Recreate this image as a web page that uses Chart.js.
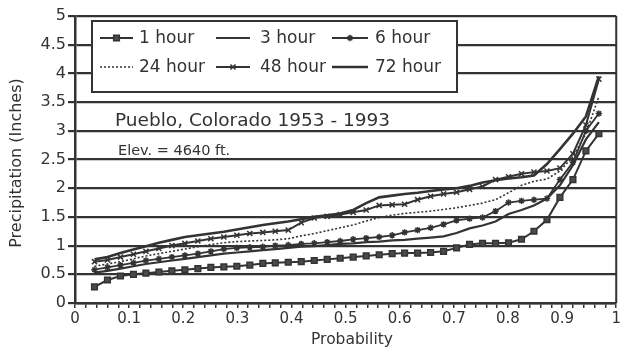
<!DOCTYPE html>
<html>
<head>
<meta charset="utf-8">
<script src="https://cdn.jsdelivr.net/npm/chart.js@4/dist/chart.umd.min.js"></script>
<style>
  html, body { margin: 0; padding: 0; background: #fff; }
  #wrap { width: 623px; height: 348px; }
</style>
</head>
<body>
<div id="wrap"><canvas id="c" width="623" height="348"></canvas></div>
<script>
// ---- data ----
const probability = [0.036,0.060,0.084,0.108,0.131,0.155,0.179,0.203,0.227,0.251,
                     0.275,0.299,0.323,0.347,0.370,0.394,0.418,0.442,0.466,0.490,
                     0.514,0.538,0.562,0.586,0.609,0.633,0.657,0.681,0.705,0.729,
                     0.753,0.777,0.801,0.825,0.848,0.872,0.896,0.920,0.944,0.968];
const hour1  = [0.28,0.40,0.47,0.50,0.52,0.54,0.56,0.58,0.60,0.62,
                0.63,0.64,0.66,0.69,0.70,0.71,0.72,0.74,0.76,0.78,
                0.80,0.82,0.84,0.86,0.87,0.87,0.88,0.90,0.96,1.02,
                1.04,1.04,1.05,1.11,1.25,1.45,1.84,2.15,2.65,2.95];
const hour3  = [0.53,0.56,0.60,0.64,0.68,0.71,0.74,0.77,0.80,0.83,
                0.86,0.88,0.90,0.92,0.94,0.96,0.98,0.99,1.01,1.03,
                1.04,1.06,1.07,1.09,1.10,1.12,1.14,1.16,1.22,1.30,
                1.35,1.42,1.55,1.62,1.70,1.82,2.05,2.40,2.85,3.15];
const hour6  = [0.58,0.62,0.66,0.70,0.74,0.77,0.80,0.83,0.86,0.90,
                0.94,0.96,0.97,0.98,1.00,1.01,1.03,1.04,1.06,1.08,
                1.11,1.13,1.15,1.18,1.23,1.27,1.31,1.37,1.44,1.47,
                1.49,1.60,1.75,1.78,1.80,1.82,2.15,2.45,3.00,3.30];
const hour24 = [0.64,0.68,0.72,0.77,0.82,0.86,0.90,0.94,0.98,1.02,
                1.05,1.07,1.08,1.09,1.10,1.12,1.17,1.21,1.26,1.31,
                1.36,1.43,1.49,1.53,1.56,1.58,1.60,1.63,1.66,1.70,
                1.74,1.80,1.92,2.05,2.12,2.16,2.30,2.55,2.95,3.60];
const hour48 = [0.72,0.75,0.80,0.85,0.90,0.95,1.00,1.04,1.08,1.12,
                1.15,1.18,1.21,1.23,1.25,1.27,1.40,1.48,1.51,1.54,
                1.58,1.62,1.70,1.71,1.72,1.80,1.86,1.90,1.93,1.98,
                2.03,2.15,2.20,2.25,2.28,2.30,2.35,2.60,3.10,3.90];
const hour72 = [0.76,0.80,0.87,0.93,0.99,1.05,1.10,1.15,1.18,1.21,
                1.24,1.28,1.32,1.36,1.39,1.42,1.46,1.50,1.53,1.56,
                1.62,1.74,1.84,1.87,1.90,1.92,1.95,1.98,2.00,2.04,
                2.10,2.14,2.17,2.19,2.22,2.42,2.68,2.95,3.25,3.95];
const seriesLabels = ['1 hour','3 hour','6 hour','24 hour','48 hour','72 hour'];
const xTickLabels = ['0','0.1','0.2','0.3','0.4','0.5','0.6','0.7','0.8','0.9','1'];
const yTickLabels = ['0','0.5','1','1.5','2','2.5','3','3.5','4','4.5','5'];
const titleText = 'Pueblo, Colorado 1953 - 1993';
const elevText = 'Elev. = 4640 ft.';
const xTitle = 'Probability';
const yTitle = 'Precipitation (Inches)';

// ---- styling ----
const INK = '#333333';
const FONT = '"DejaVu Sans", "Liberation Sans", Arial, sans-serif';

function pts(arr) { return probability.map((p, i) => ({ x: p, y: arr[i] })); }

const styles = [
  { borderWidth: 2.0, pointStyle: 'rect', pointRadius: 4, dash: [] },
  { borderWidth: 2.2, pointStyle: false, pointRadius: 0, dash: [] },
  { borderWidth: 1.8, pointStyle: 'star', pointRadius: 3.2, dash: [] },
  { borderWidth: 1.6, pointStyle: false, pointRadius: 0, dash: [2, 2] },
  { borderWidth: 2.0, pointStyle: 'crossRot', pointRadius: 3.6, dash: [] },
  { borderWidth: 2.6, pointStyle: false, pointRadius: 0, dash: [] }
];
const seriesData = [hour1, hour3, hour6, hour24, hour48, hour72];

const datasets = seriesData.map((arr, k) => ({
  label: seriesLabels[k],
  data: pts(arr),
  borderColor: INK,
  backgroundColor: INK,
  borderWidth: styles[k].borderWidth,
  borderDash: styles[k].dash,
  pointStyle: styles[k].pointStyle || 'circle',
  pointRadius: styles[k].pointRadius,
  pointBorderWidth: 1.5,
  pointBorderColor: INK,
  pointBackgroundColor: '#4a4a4a',
  tension: 0,
  fill: false
}));

function drawMarker(ctx, style, r, x, y) {
  if (!style) return;
  Chart.helpers.drawPoint(ctx, { pointStyle: style, radius: r, rotation: 0, borderWidth: 1.5 }, x, y);
}

const decor = {
  id: 'decor',
  afterDraw(chart) {
    const ctx = chart.ctx;
    const a = chart.chartArea;
    ctx.save();
    // right border
    ctx.strokeStyle = INK; ctx.lineWidth = 2;
    ctx.beginPath(); ctx.moveTo(a.right, a.top); ctx.lineTo(a.right, a.bottom); ctx.stroke();

    // legend box
    const bx = 92, by = 21, bw = 365, bh = 71;
    ctx.fillStyle = '#fff';
    ctx.fillRect(bx, by, bw, bh);
    ctx.lineWidth = 2; ctx.strokeStyle = INK;
    ctx.strokeRect(bx, by, bw, bh);

    const cols = [{ s: 100, e: 133, t: 139 }, { s: 216, e: 250, t: 260 }, { s: 332, e: 368, t: 375 }];
    const rows = [38, 67];
    ctx.font = '17px ' + FONT;
    ctx.textBaseline = 'middle';
    ctx.textAlign = 'left';
    for (let k = 0; k < 6; k++) {
      const r = Math.floor(k / 3), c = k % 3;
      const y = rows[r], col = cols[c];
      const st = styles[k];
      ctx.strokeStyle = INK; ctx.fillStyle = '#4a4a4a';
      ctx.lineWidth = st.borderWidth;
      ctx.setLineDash(st.dash);
      ctx.beginPath(); ctx.moveTo(col.s, y); ctx.lineTo(col.e, y); ctx.stroke();
      ctx.setLineDash([]);
      ctx.lineWidth = 1.5;
      drawMarker(ctx, st.pointStyle, st.pointRadius, (col.s + col.e) / 2, y);
      ctx.fillStyle = INK;
      ctx.fillText(seriesLabels[k], col.t, y + 1);
    }

    // annotation texts
    ctx.fillStyle = INK;
    ctx.textBaseline = 'alphabetic';
    ctx.font = '18.5px ' + FONT;
    ctx.fillText(titleText, 115, 126);
    ctx.font = '14.5px ' + FONT;
    ctx.fillText(elevText, 118, 155);

    // axis titles
    ctx.textAlign = 'center';
    ctx.textBaseline = 'middle';
    ctx.font = '15.5px ' + FONT;
    ctx.fillText(xTitle, 352, 340);
    ctx.translate(17, 163);
    ctx.rotate(-Math.PI / 2);
    ctx.font = '16px ' + FONT;
    ctx.fillText(yTitle, 0, 0);
    ctx.restore();
  }
};

new Chart(document.getElementById('c'), {
  type: 'line',
  data: { datasets },
  options: {
    responsive: false,
    animation: false,
    devicePixelRatio: 1,
    layout: { padding: { top: 16, right: 3, left: 0, bottom: 0 } },
    plugins: { legend: { display: false }, tooltip: { enabled: false } },
    scales: {
      x: {
        type: 'linear', min: 0, max: 1, position: 'bottom',
        afterFit(s) { s.height = 45; },
        grid: { drawOnChartArea: false, drawTicks: true, tickLength: 5, color: INK, lineWidth: 1.5 },
        border: { display: true, color: INK, width: 2.5 },
        ticks: {
          stepSize: 0.02, autoSkip: false, maxTicksLimit: 1000, maxRotation: 0, minRotation: 0,
          padding: 2, color: INK, font: { family: FONT, size: 15 },
          callback(v) {
            const n = Math.round(v * 50);
            return n % 5 === 0 ? xTickLabels[n / 5] : '';
          }
        }
      },
      y: {
        min: 0, max: 5,
        afterFit(s) { s.width = 75; },
        grid: { color: INK, lineWidth: 2.2, drawTicks: true, tickLength: 7 },
        border: { display: true, color: INK, width: 2.5 },
        ticks: {
          stepSize: 0.5, padding: 2, color: INK, font: { family: FONT, size: 16 },
          callback(v) { return yTickLabels[Math.round(v * 2)]; }
        }
      }
    }
  },
  plugins: [decor]
});
</script>
</body>
</html>
